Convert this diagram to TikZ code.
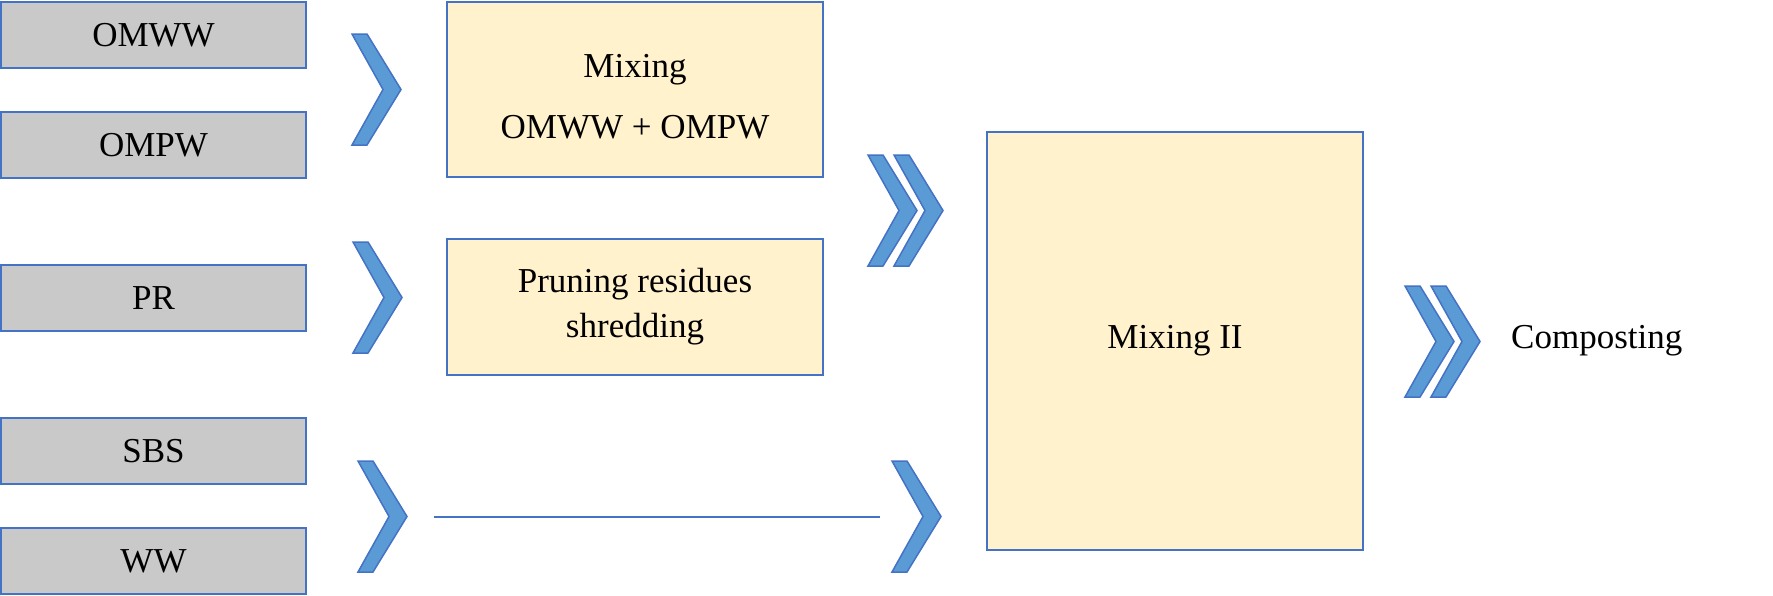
\documentclass[tikz,border=0pt]{standalone}
\usepackage{fontspec}
\setmainfont{Liberation Serif}
\definecolor{bord}{HTML}{4472C4}
\definecolor{grayf}{HTML}{C9C9C9}
\definecolor{yel}{HTML}{FFF2CC}
\definecolor{chevf}{HTML}{5B9BD5}
\tikzset{
  lbl/.style={font=\fontsize{35}{41}\selectfont, text=black, inner sep=0pt},
  graybox/.style={lbl, draw=bord, fill=grayf, line width=2pt, minimum width=305pt, minimum height=66pt},
  yelbox/.style={lbl, draw=bord, fill=yel, line width=2pt, align=center},
  chevstyle/.style={draw=bord, fill=chevf, line width=1.5pt, line join=miter},
  link/.style={draw=bord, line width=2pt},
  chevpic/.pic={
    \path[chevstyle] (0,0) -- (15,0) -- (49,55.5) -- (15,111) -- (0,111) -- (31,55.5) -- cycle;
    \coordinate (-tip) at (49,55.5);
    \coordinate (-back) at (0,55.5);
  }
}
\begin{document}
\begin{tikzpicture}[x=1pt,y=-1pt]
\useasboundingbox (0,0) rectangle (1773,595);
% input boxes
\node[graybox] (omww) at (153.5,35) {OMWW};
\node[graybox] (ompw) at (153.5,145) {OMPW};
\node[graybox] (pr)   at (153.5,298) {PR};
\node[graybox] (sbs)  at (153.5,451) {SBS};
\node[graybox] (ww)   at (153.5,561) {WW};
% process boxes
\node[yelbox, minimum width=376pt, minimum height=175pt] (mix1) at (635,89.5) {\rule{0pt}{37pt}Mixing\\[20pt]OMWW + OMPW};
\node[yelbox, minimum width=376pt, minimum height=136pt] (prs) at (635,307) {Pruning residues\\[4pt]shredding};
\node[yelbox, minimum width=376pt, minimum height=418pt] (mix2) at (1175,341) {Mixing II};
\node[lbl, anchor=west] (comp) at (1511,341) {Composting};
% chevrons
\pic (c1) at (352,34) {chevpic};
\pic (c2) at (353,242) {chevpic};
\pic (c3a) at (868,155) {chevpic};
\pic (c3b) at (894,155) {chevpic};
\pic (c4) at (358,461) {chevpic};
\pic (c5) at (892,461) {chevpic};
\pic (c6a) at (1405,286) {chevpic};
\pic (c6b) at (1431,286) {chevpic};
% bypass line
\coordinate (la) at (434,517);
\coordinate (lb) at (880,517);
\draw[link] (la) -- (lb);
\end{tikzpicture}
\end{document}
